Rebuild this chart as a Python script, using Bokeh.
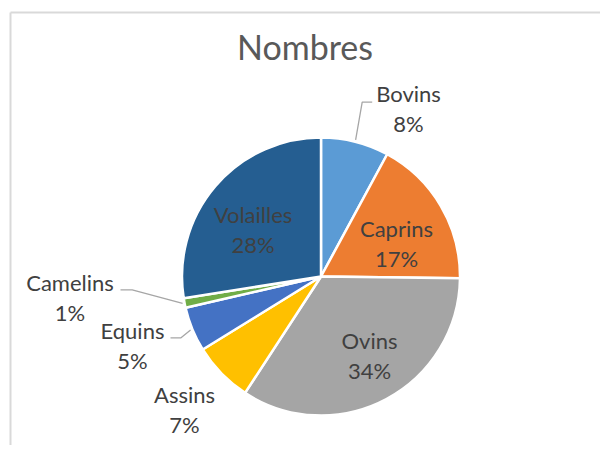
import numpy as np
from bokeh.plotting import figure
from bokeh.models import Range1d, ColumnDataSource
from bokeh.embed import file_html
from bokeh.resources import INLINE
from bokeh.core.properties import value

# ---------------- data ----------------
categories = ["Bovins", "Caprins", "Ovins", "Assins", "Equins", "Camelins", "Volailles"]
shares = [7.9, 17.3, 34.0, 7.0, 5.2, 1.1, 27.5]
colors = ["#5B9BD5", "#ED7D31", "#A5A5A5", "#FFC000", "#4472C4", "#70AD47", "#255E91"]
title_text = "Nombres"

# ---------------- layout (picture pixels) ----------------
W, H = 600, 445


def Y(y):
    return H - y


CX, CY, R = 320.5, Y(276), 139
FONT = "Lato"
LABEL_SIZE = "22px"
LINE_GAP = 30
TITLE_DY = 10      # compensation of the rendered baseline
LABEL_DY = 8.5
# centre x and baseline y of the first label line
label_pos = {
    "Bovins": (408, 101.7),
    "Caprins": (396, 236),
    "Ovins": (369, 348.5),
    "Assins": (184, 402.7),
    "Equins": (132, 338.3),
    "Camelins": (69.5, 290.7),
    "Volailles": (252.5, 222.7),
}
# leader stubs (text side) ; pie side end is computed from slice mid-angle
leader_stub = {
    "Bovins": [(371.7, 101.7), (361.7, 101.7)],
    "Camelins": [(120, 289.3), (131.7, 289.3)],
    "Equins": [(170, 337.3), (180.5, 337.3)],
}

p = figure(width=W, height=H, x_range=Range1d(0, W), y_range=Range1d(0, H),
           output_backend="svg", toolbar_location=None, min_border=0,
           x_axis_location=None, y_axis_location=None)
p.grid.visible = False
p.outline_line_color = None
p.background_fill_color = "white"
p.border_fill_color = "white"

# chart frame
p.line(x=[10, 10], y=[Y(12), Y(470)], line_color="#D9D9D9", line_width=2)
p.line(x=[10, 620], y=[Y(12), Y(12)], line_color="#D9D9D9", line_width=2)

# title
p.text(x=[304.5], y=[Y(56 - TITLE_DY)], text=[title_text], text_align="center",
       text_baseline="alphabetic", text_font=value(FONT), text_font_size="34px",
       text_color="#595959")

# pie
frac = np.array(shares) / sum(shares)
cum = np.concatenate([[0.0], np.cumsum(frac)])
start = np.pi / 2 - 2 * np.pi * cum[1:]
end = np.pi / 2 - 2 * np.pi * cum[:-1]
mid = (start + end) / 2
src = ColumnDataSource(dict(start=start, end=end, color=colors, cat=categories))
p.wedge(x=CX, y=CY, radius=R, start_angle="start", end_angle="end",
        fill_color="color", line_color="white", line_width=2.5, source=src)

# leader lines
for i, c in enumerate(categories):
    if c in leader_stub:
        pts = list(leader_stub[c])
        ex = CX + (R + 2) * np.cos(mid[i])
        ey = CY + (R + 2) * np.sin(mid[i])
        xs = [q[0] for q in pts] + [ex]
        ys = [Y(q[1]) for q in pts] + [ey]
        p.line(x=xs, y=ys, line_color="#A6A6A6", line_width=1.3)

# labels
pct_labels = [f"{int(v + 0.5)}%" for v in shares]
lx = [label_pos[c][0] for c in categories]
ly1 = [Y(label_pos[c][1] - LABEL_DY) for c in categories]
ly2 = [Y(label_pos[c][1] + LINE_GAP - LABEL_DY) for c in categories]
p.text(x=lx, y=ly1, text=categories, text_align="center", text_baseline="alphabetic",
       text_font=value(FONT), text_font_size=LABEL_SIZE, text_color="#404040")
p.text(x=lx, y=ly2, text=pct_labels, text_align="center", text_baseline="alphabetic",
       text_font=value(FONT), text_font_size=LABEL_SIZE, text_color="#404040")

open("out.html", "w").write(file_html(p, INLINE))
